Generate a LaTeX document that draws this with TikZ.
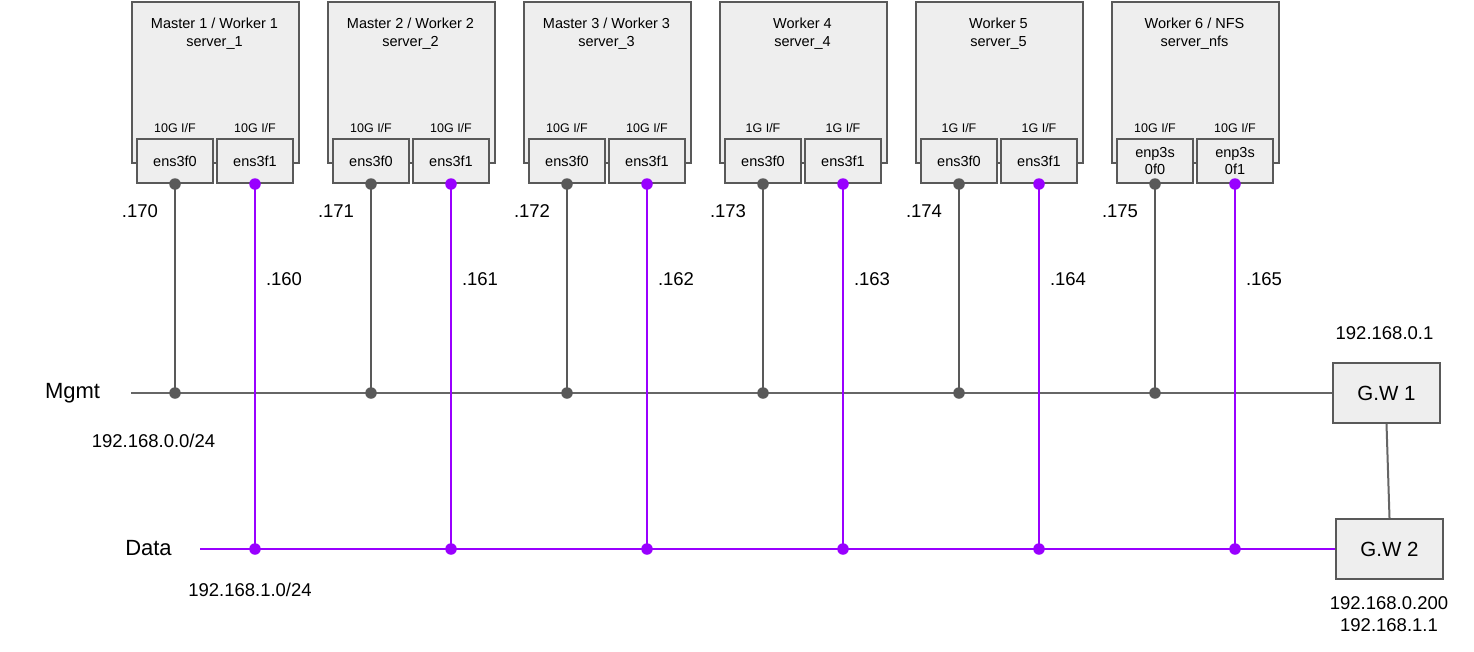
\documentclass[tikz,border=0pt]{standalone}
\usepackage{fontspec}
\setmainfont{Liberation Sans}
\definecolor{boxfill}{HTML}{EEEEEE}
\definecolor{edge}{HTML}{595959}
\definecolor{busgray}{HTML}{666666}
\definecolor{purp}{HTML}{9900FF}
\newcommand\srvunit[9]{%
  \node[srv] (s#1) at (#2,1) {};
  \node[ttl] (t#1) at (#2+83.5,34) {#3\\#4};
  \node[iface] (a#1) at (#2+44,161) {#6};
  \node[iface] (b#1) at (#2+124,161) {#7};
  \node[spd] (ka#1) at (#2+44,128) {#5 I/F};
  \node[spd] (kb#1) at (#2+124,128) {#5 I/F};
  \node[ip] (ma#1) at (#2+9,211) {.#8};
  \node[ip] (da#1) at (#2+153,279) {.#9};
  \coordinate (mj#1) at (#2+44,393);
  \coordinate (dj#1) at (#2+124,549);
}
\begin{document}
\begin{tikzpicture}[x=1pt,y=-1pt,
  srv/.style={draw=edge, fill=boxfill, line width=2pt, minimum width=167pt, minimum height=161pt, inner sep=0pt, anchor=north west},
  ttl/.style={align=center, inner sep=0pt, font=\fontsize{14.5}{18}\selectfont},
  iface/.style={draw=edge, fill=boxfill, line width=2pt, minimum width=76pt, minimum height=44pt, inner sep=0pt, align=center, font=\fontsize{14.5}{17}\selectfont},
  spd/.style={inner sep=0pt, font=\fontsize{12.5}{14}\selectfont},
  ip/.style={inner sep=0pt, font=\fontsize{18.5}{22}\selectfont},
  big/.style={inner sep=0pt, font=\fontsize{22}{26}\selectfont},
  gw/.style={draw=edge, fill=boxfill, line width=2pt, minimum width=107pt, minimum height=60pt, inner sep=0pt, font=\fontsize{20.5}{24}\selectfont},
  gline/.style={draw=edge, line width=2pt},
  bline/.style={draw=busgray, line width=2pt},
  pline/.style={draw=purp, line width=2pt},
  gdot/.style={circle, fill=edge, minimum size=11.5pt, inner sep=0pt},
  pdot/.style={circle, fill=purp, minimum size=11.5pt, inner sep=0pt}
]
\useasboundingbox[fill=white] (0,0) rectangle (1474,651);

\srvunit{1}{131}{Master 1 / Worker 1}{server\_1}{10G}{ens3f0}{ens3f1}{170}{160}
\srvunit{2}{327}{Master 2 / Worker 2}{server\_2}{10G}{ens3f0}{ens3f1}{171}{161}
\srvunit{3}{523}{Master 3 / Worker 3}{server\_3}{10G}{ens3f0}{ens3f1}{172}{162}
\srvunit{4}{719}{Worker 4}{server\_4}{1G}{ens3f0}{ens3f1}{173}{163}
\srvunit{5}{915}{Worker 5}{server\_5}{1G}{ens3f0}{ens3f1}{174}{164}
\srvunit{6}{1111}{Worker 6 / NFS}{server\_nfs}{10G}{enp3s\\0f0}{enp3s\\0f1}{175}{165}

% gateways
\node[gw] (gw1) at (1386.5,393) {G.W 1};
\node[gw] (gw2) at (1389.5,549) {G.W 2};
\node[ip] (gw1ip) at (1384.5,333) {192.168.0.1};
\node[ip, align=center] (gw2ip) at (1389,614) {192.168.0.200\\192.168.1.1};

% network labels
\node[big] (mgmt) at (72.5,393) {Mgmt};
\node[big] (data) at (148.5,548) {Data};
\node[ip] (mnet) at (153.5,441) {192.168.0.0/24};
\node[ip] (dnet) at (250,590) {192.168.1.0/24};

\coordinate (mgL) at (131,393);
\coordinate (dtL) at (200,549);

% mgmt bus
\draw[bline] (mgL) -- (gw1.west);
\draw[bline] (gw1.south) -- (gw2.north);
\foreach \i in {1,...,6} {\draw[gline] (a\i.south) -- (mj\i);}
% data bus
\draw[pline] (dtL) -- (gw2.west);
\foreach \i in {1,...,6} {\draw[pline] (b\i.south) -- (dj\i);}
% dots
\foreach \i in {1,...,6} {
  \node[gdot] (ga\i) at (a\i.south) {};
  \node[gdot] (gm\i) at (mj\i) {};
  \node[pdot] (pb\i) at (b\i.south) {};
  \node[pdot] (pd\i) at (dj\i) {};
}
\end{tikzpicture}
\end{document}
